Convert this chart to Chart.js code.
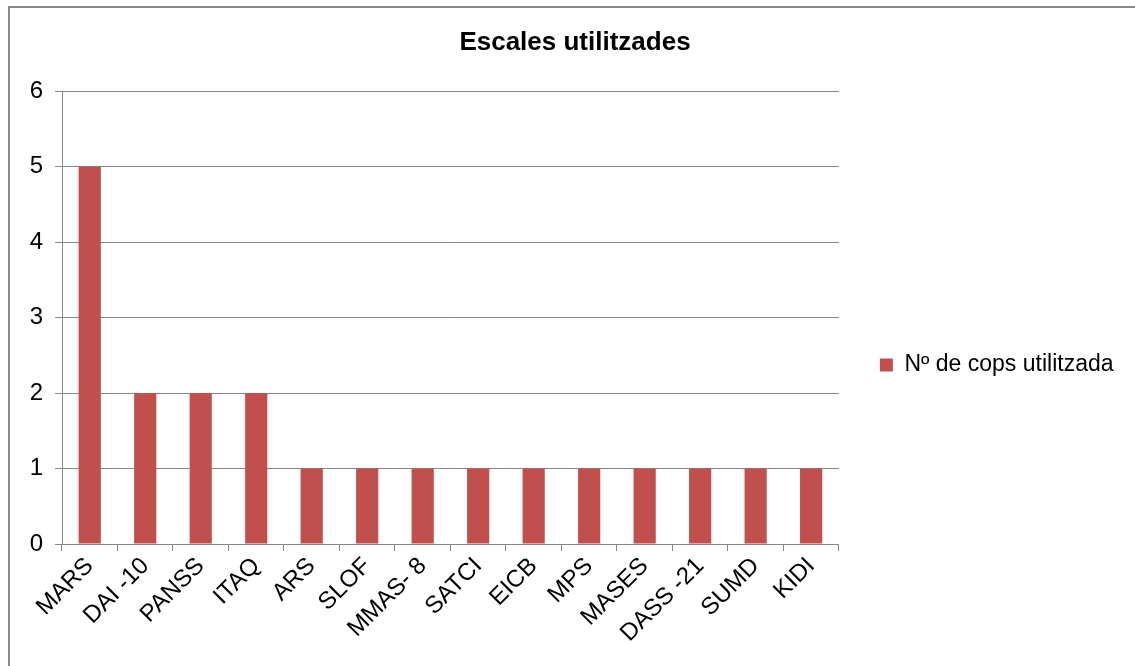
<!DOCTYPE html>
<html>
<head>
<meta charset="utf-8">
<script src="https://cdn.jsdelivr.net/npm/chart.js@4.4.1/dist/chart.umd.min.js"></script>
<style>
  html, body { margin: 0; padding: 0; background: #fff; overflow: hidden; }
  #wrap { position: relative; width: 1135px; height: 666px; }
  #frame {
    position: absolute; left: 8px; top: 6px; width: 1200px; height: 700px;
    border-left: 2px solid #8c8c8c; border-top: 2px solid #8c8c8c;
  }
  #chart { position: absolute; left: 0; top: 0; }
</style>
</head>
<body>
<div id="wrap">
  <div id="frame"></div>
  <canvas id="chart" width="1135" height="666"></canvas>
</div>
<script>
const categories = ['MARS', 'DAI -10', 'PANSS', 'ITAQ', 'ARS', 'SLOF', 'MMAS- 8',
  'SATCI', 'EICB', 'MPS', 'MASES', 'DASS -21', 'SUMD', 'KIDI'];
const usedCounts = [5, 2, 2, 2, 1, 1, 1, 1, 1, 1, 1, 1, 1, 1];
const yTicks = [0, 1, 2, 3, 4, 5, 6];

const seriesLabel = 'N\u00ba de cops utilitzada';
const titleText = 'Escales utilitzades';
const barColor = '#C0504D';
const gridColor = '#868686';
const fontFamily = 'Arial, "Liberation Sans", sans-serif';

const ctx = document.getElementById('chart');

new Chart(ctx, {
  type: 'bar',
  data: {
    labels: categories,
    datasets: [{
      label: seriesLabel,
      data: usedCounts,
      backgroundColor: barColor,
      borderWidth: 0,
      categoryPercentage: 1,
      barPercentage: 0.4,
    }]
  },
  options: {
    responsive: false,
    animation: false,
    layout: {
      padding: { left: 26.5, right: 11.5, top: 0, bottom: 0 }
    },
    plugins: {
      title: {
        display: true,
        text: titleText,
        color: '#000',
        font: { family: fontFamily, size: 26, weight: 'bold' },
        padding: { top: 27, bottom: 33 }
      },
      legend: {
        display: true,
        position: 'right',
        // the layout would otherwise cap the legend at a quarter of the width
        maxWidth: 320,
        // empty legend title just pushes the entry down a bit, like the original
        title: { display: true, text: '', font: { size: 12 }, padding: { top: 49.6, bottom: 0 } },
        labels: {
          boxWidth: 13,
          boxHeight: 13,
          padding: 41,
          color: '#000',
          font: { family: fontFamily, size: 23 }
        }
      },
      tooltip: { enabled: false }
    },
    scales: {
      x: {
        afterFit: (scale) => { scale.height = 122; },
        grid: {
          offset: true,
          drawOnChartArea: false,
          drawTicks: true,
          tickLength: 7,
          color: gridColor,
        },
        border: { display: true, color: gridColor, width: 1 },
        ticks: {
          autoSkip: false,
          maxRotation: 45,
          minRotation: 45,
          padding: 1,
          color: '#000',
          font: { family: fontFamily, size: 24 }
        }
      },
      y: {
        min: 0,
        max: 6,
        afterFit: (scale) => { scale.width = 35.5; },
        afterBuildTicks: (scale) => { scale.ticks = yTicks.map(v => ({ value: v })); },
        grid: {
          color: gridColor,
          tickLength: 7,
          drawTicks: true,
        },
        border: { display: true, color: gridColor, width: 1 },
        ticks: {
          padding: 12,
          color: '#000',
          font: { family: fontFamily, size: 24 }
        }
      }
    }
  }
});
</script>
</body>
</html>
